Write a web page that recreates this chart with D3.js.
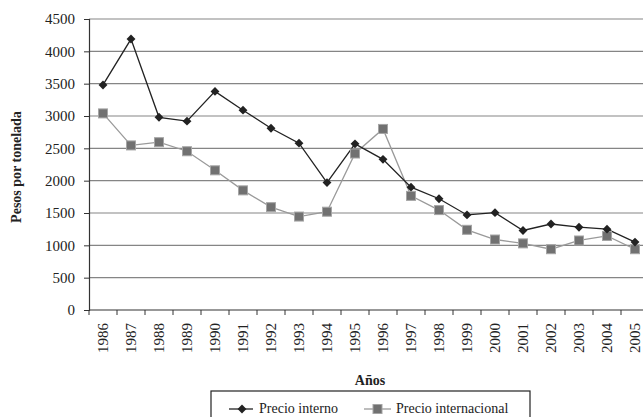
<!DOCTYPE html>
<html>
<head>
<meta charset="utf-8">
<script src="https://cdn.jsdelivr.net/npm/d3@7"></script>
<style>
  body { margin: 0; background: #fff; }
  svg { display: block; }
  svg text { font-family: "Liberation Serif", "DejaVu Serif", serif; }
</style>
</head>
<body>
<div id="chart-area"></div>
<script>
// Data
var years = ["1986", "1987", "1988", "1989", "1990", "1991", "1992", "1993", "1994", "1995",
             "1996", "1997", "1998", "1999", "2000", "2001", "2002", "2003", "2004", "2005"];
var precioInterno = [3480, 4190, 2980, 2920, 3380, 3090, 2810, 2580, 1970, 2570,
                     2330, 1900, 1720, 1470, 1505, 1230, 1330, 1280, 1250, 1050];
var precioInternacional = [3040, 2545, 2595, 2455, 2160, 1850, 1590, 1445, 1520, 2420,
                           2800, 1765, 1545, 1240, 1090, 1030, 940, 1075, 1145, 940];
var yTicks = [0, 500, 1000, 1500, 2000, 2500, 3000, 3500, 4000, 4500];

var W = 643, H = 417;
var margin = { top: 19, left: 89 };
var plotH = 291;      // 0 -> 4500
var plotW = 560;      // runs past the right edge, like the reference
var serif = "Liberation Serif, DejaVu Serif, serif";

var svg = d3.select("#chart-area").append("svg")
    .attr("width", W)
    .attr("height", H);

var g = svg.append("g")
    .attr("transform", "translate(" + margin.left + "," + margin.top + ")");

// Scales
var x = d3.scaleBand().domain(years).range([0, plotW]);
var y = d3.scaleLinear().domain([0, 4500]).range([plotH, 0]);

// Gridlines
g.append("g").selectAll("line")
    .data(yTicks.filter(function (d) { return d > 0; }))
    .enter().append("line")
    .attr("x1", 0).attr("x2", plotW)
    .attr("y1", function (d) { return y(d); })
    .attr("y2", function (d) { return y(d); })
    .attr("stroke", "#858585")
    .attr("stroke-width", 1.2);

// Y axis
var yAxis = g.append("g")
    .call(d3.axisLeft(y).tickValues(yTicks).tickSize(5).tickPadding(9).tickFormat(d3.format("d")));
yAxis.attr("font-family", serif);
yAxis.select(".domain").attr("stroke", "#333").attr("stroke-width", 1.2);
yAxis.selectAll(".tick line").attr("stroke", "#333");
yAxis.selectAll("text").attr("font-size", "15px").attr("fill", "#222")
    .attr("font-family", serif);

// X axis (ticks between categories)
var xAxis = g.append("g").attr("transform", "translate(0," + plotH + ")");
xAxis.append("line").attr("x1", 0).attr("x2", plotW)
    .attr("stroke", "#333").attr("stroke-width", 1.2);
xAxis.selectAll(".xt")
    .data(years.concat(["end"]))
    .enter().append("line")
    .attr("class", "xt")
    .attr("x1", function (d, i) { return i * x.step(); })
    .attr("x2", function (d, i) { return i * x.step(); })
    .attr("y1", 0).attr("y2", 5)
    .attr("stroke", "#333");
xAxis.selectAll("text")
    .data(years)
    .enter().append("text")
    .attr("transform", function (d) {
        return "translate(" + (x(d) + x.bandwidth() / 2 + 5) + ",13) rotate(-90)";
    })
    .attr("text-anchor", "end")
    .attr("font-family", serif)
    .attr("font-size", "15px")
    .attr("fill", "#222")
    .text(function (d) { return d; });

// Axis titles
svg.append("text")
    .attr("transform", "translate(21,167) rotate(-90)")
    .attr("text-anchor", "middle")
    .attr("font-family", serif)
    .attr("font-size", "14px")
    .attr("font-weight", "bold")
    .attr("fill", "#222")
    .text("Pesos por tonelada");

svg.append("text")
    .attr("x", 370).attr("y", 385)
    .attr("text-anchor", "middle")
    .attr("font-family", serif)
    .attr("font-size", "14px")
    .attr("font-weight", "bold")
    .attr("fill", "#222")
    .text("Años");

// Lines
var cx = function (d, i) { return x(years[i]) + x.bandwidth() / 2; };
var line = d3.line().x(cx).y(function (d) { return y(d); });

g.append("path").datum(precioInternacional)
    .attr("d", line).attr("fill", "none")
    .attr("stroke", "#9a9a9a").attr("stroke-width", 1.3);
g.append("path").datum(precioInterno)
    .attr("d", line).attr("fill", "none")
    .attr("stroke", "#222").attr("stroke-width", 1.3);

var diamond = d3.symbol().type(d3.symbolDiamond2 || d3.symbolDiamond).size(50);

g.selectAll(".sq").data(precioInternacional).enter().append("rect")
    .attr("class", "sq")
    .attr("x", function (d, i) { return cx(d, i) - 4.5; })
    .attr("y", function (d) { return y(d) - 4.5; })
    .attr("width", 9).attr("height", 9)
    .attr("fill", "#717171").attr("stroke", "#a5a5a5").attr("stroke-width", 1);

g.selectAll(".dm").data(precioInterno).enter().append("path")
    .attr("class", "dm")
    .attr("d", diamond)
    .attr("transform", function (d, i) { return "translate(" + cx(d, i) + "," + y(d) + ")"; })
    .attr("fill", "#222");

// Legend
var lg = svg.append("g").attr("font-family", serif);
lg.append("rect")
    .attr("x", 211).attr("y", 391).attr("width", 319).attr("height", 40)
    .attr("fill", "#fff").attr("stroke", "#222").attr("stroke-width", 1.2);

lg.append("line").attr("x1", 229).attr("x2", 253).attr("y1", 409).attr("y2", 409)
    .attr("stroke", "#222").attr("stroke-width", 1.3);
lg.append("path").attr("d", diamond).attr("transform", "translate(242,409)").attr("fill", "#222");
lg.append("text").attr("x", 259).attr("y", 413).attr("font-size", "14px").attr("fill", "#222")
    .text("Precio interno");

lg.append("line").attr("x1", 364).attr("x2", 391).attr("y1", 409).attr("y2", 409)
    .attr("stroke", "#9a9a9a").attr("stroke-width", 1.3);
lg.append("rect").attr("x", 373).attr("y", 404.5).attr("width", 9).attr("height", 9)
    .attr("fill", "#717171").attr("stroke", "#a5a5a5");
lg.append("text").attr("x", 396).attr("y", 413).attr("font-size", "14px").attr("fill", "#222")
    .text("Precio internacional");
</script>
</body>
</html>
